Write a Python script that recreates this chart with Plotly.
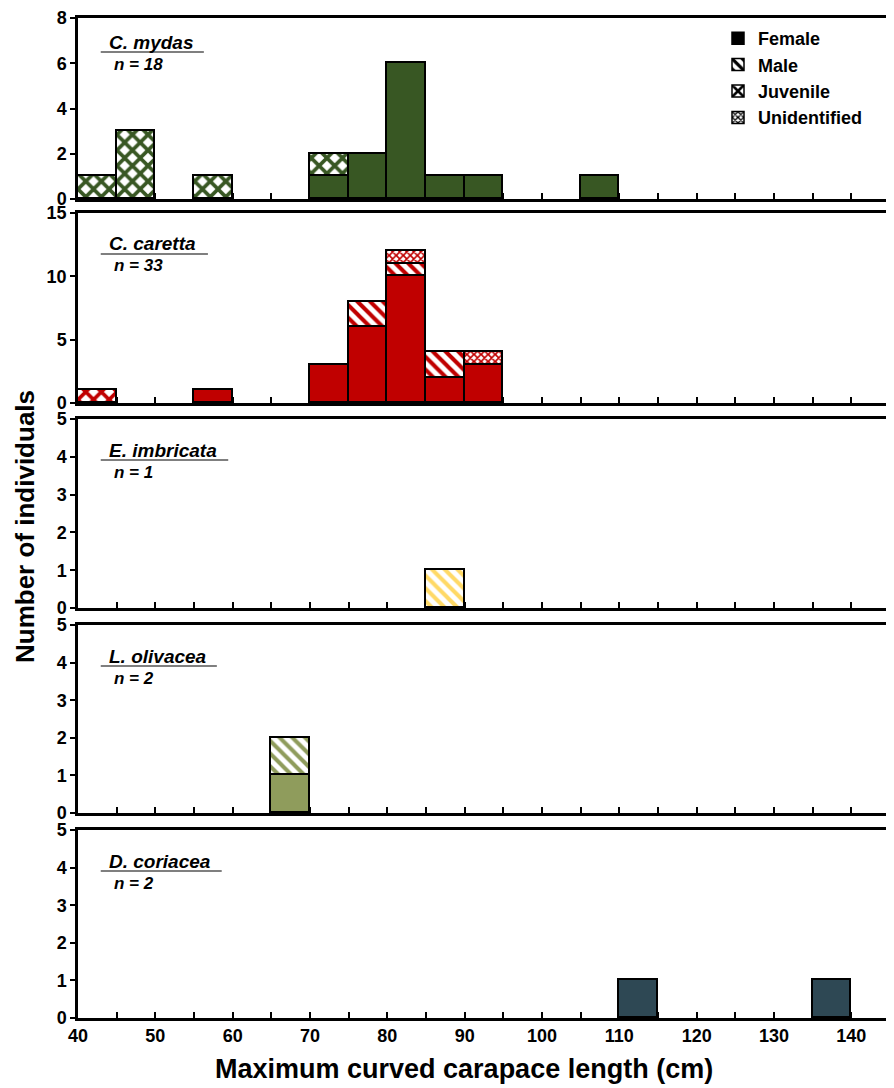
import plotly.graph_objects as go

# ---------------- data ----------------
bin_starts = [40, 45, 50, 55, 60, 65, 70, 75, 80, 85, 90, 95, 100, 105, 110,
              115, 120, 125, 130, 135, 140]
bin_width = 5

species = ["C. mydas", "C. caretta", "E. imbricata", "L. olivacea", "D. coriacea"]
n_values = [18, 33, 1, 2, 2]
species_colors = ["#385723", "#C00000", "#FFD966", "#8F9C5C", "#2E4854"]
categories = ["Female", "Male", "Juvenile", "Unidentified"]

#                40 45 50 55 60 65 70 75 80 85 90 95 100 105 110 115 120 125 130 135 140
mydas_female = [0, 0, 0, 0, 0, 0, 1, 2, 6, 1, 1, 0, 0, 1, 0, 0, 0, 0, 0, 0, 0]
mydas_male = [0] * 21
mydas_juvenile = [1, 3, 0, 1, 0, 0, 1, 0, 0, 0, 0, 0, 0, 0, 0, 0, 0, 0, 0, 0, 0]
mydas_unident = [0] * 21

caretta_female = [0, 0, 0, 1, 0, 0, 3, 6, 10, 2, 3, 0, 0, 0, 0, 0, 0, 0, 0, 0, 0]
caretta_male = [0, 0, 0, 0, 0, 0, 0, 2, 1, 2, 0, 0, 0, 0, 0, 0, 0, 0, 0, 0, 0]
caretta_juvenile = [1, 0, 0, 0, 0, 0, 0, 0, 0, 0, 0, 0, 0, 0, 0, 0, 0, 0, 0, 0, 0]
caretta_unident = [0, 0, 0, 0, 0, 0, 0, 0, 1, 0, 1, 0, 0, 0, 0, 0, 0, 0, 0, 0, 0]

imbricata_female = [0] * 21
imbricata_male = [0, 0, 0, 0, 0, 0, 0, 0, 0, 1, 0, 0, 0, 0, 0, 0, 0, 0, 0, 0, 0]
imbricata_juvenile = [0] * 21
imbricata_unident = [0] * 21

olivacea_female = [0, 0, 0, 0, 0, 1, 0, 0, 0, 0, 0, 0, 0, 0, 0, 0, 0, 0, 0, 0, 0]
olivacea_male = [0, 0, 0, 0, 0, 1, 0, 0, 0, 0, 0, 0, 0, 0, 0, 0, 0, 0, 0, 0, 0]
olivacea_juvenile = [0] * 21
olivacea_unident = [0] * 21

coriacea_female = [0, 0, 0, 0, 0, 0, 0, 0, 0, 0, 0, 0, 0, 0, 1, 0, 0, 0, 0, 1, 0]
coriacea_male = [0] * 21
coriacea_juvenile = [0] * 21
coriacea_unident = [0] * 21

counts = [
    [mydas_female, mydas_male, mydas_juvenile, mydas_unident],
    [caretta_female, caretta_male, caretta_juvenile, caretta_unident],
    [imbricata_female, imbricata_male, imbricata_juvenile, imbricata_unident],
    [olivacea_female, olivacea_male, olivacea_juvenile, olivacea_unident],
    [coriacea_female, coriacea_male, coriacea_juvenile, coriacea_unident],
]

y_ranges = [8, 15, 5, 5, 5]
y_dticks = [2, 5, 1, 1, 1]
x_tick_vals = [40, 45, 50, 55, 60, 65, 70, 75, 80, 85, 90, 95, 100, 105, 110,
               115, 120, 125, 130, 135, 140]
x_tick_text = ["40", "", "50", "", "60", "", "70", "", "80", "", "90", "", "100",
               "", "110", "", "120", "", "130", "", "140"]

# ---------------- styling ----------------
FONT = "Liberation Sans, Arial, sans-serif"
PAGE_OFF = 8                      # default page body margin
W, H = 894 - PAGE_OFF, 1088 - PAGE_OFF
# plot area in page pixels: left 78, right 890, top 18, bottom 1018
ML = 78 - PAGE_OFF
MR = W - (890 - PAGE_OFF)
MT = 18 - PAGE_OFF
MB = H - (1018 - PAGE_OFF)
plot_w = W - ML - MR
plot_h = H - MT - MB
panel_px = [(18, 199), (213, 403), (419, 608), (625, 813), (830, 1018)]
domains = [[(1018 - b) / plot_h, (1018 - t) / plot_h] for t, b in panel_px]
line_ends = [0.155, 0.160, 0.185, 0.171, 0.177]
label_top_px = [11, 213, 419, 625, 830]   # reference frame tops for label offsets


def pattern_for(cat, color):
    if cat == "Female":
        return dict(shape="")
    if cat == "Male":
        return dict(shape="\\", fgcolor=color, bgcolor="white", size=9,
                    solidity=0.45, fillmode="replace")
    if cat == "Juvenile":
        return dict(shape="x", fgcolor=color, bgcolor="white", size=11,
                    solidity=0.55, fillmode="replace")
    return dict(shape="x", fgcolor=color, bgcolor="white", size=5,
                solidity=0.55, fillmode="replace")


fig = go.Figure()
x_centers = [b + bin_width / 2 for b in bin_starts]

for i, sp in enumerate(species):
    ax = "" if i == 0 else str(i + 1)
    for j, cat in enumerate(categories):
        vals = counts[i][j]
        if sum(vals) == 0:
            continue
        xs = [x for x, v in zip(x_centers, vals) if v > 0]
        ys = [v for v in vals if v > 0]
        fig.add_trace(go.Bar(
            x=xs, y=ys, width=bin_width,
            xaxis="x" + ax, yaxis="y" + ax,
            marker=dict(color=species_colors[i] if cat == "Female" else "white",
                        line=dict(color="black", width=1.8),
                        pattern=pattern_for(cat, species_colors[i])),
            showlegend=False, name=cat,
        ))

for cat in categories:
    fig.add_trace(go.Bar(
        x=[None], y=[None], name=cat, xaxis="x", yaxis="y",
        marker=dict(color="black" if cat == "Female" else "white",
                    line=dict(color="black", width=1.5),
                    pattern=pattern_for(cat, "black")),
        showlegend=True,
    ))

layout = dict(
    width=W, height=H,
    margin=dict(l=ML, r=MR, t=MT, b=MB, autoexpand=False),
    plot_bgcolor="white", paper_bgcolor="white",
    barmode="stack", bargap=0,
    font=dict(family=FONT, size=17, color="black"),
    legend=dict(x=(718 - 78) / plot_w, y=1 - (20 - 18) / plot_h,
                xanchor="left", yanchor="top",
                font=dict(family=FONT, size=18, color="black", weight="bold"),
                bgcolor="rgba(0,0,0,0)", tracegroupgap=0, traceorder="normal",
                itemwidth=30),
    annotations=[], shapes=[],
)

for i, sp in enumerate(species):
    ax = "" if i == 0 else str(i + 1)
    xa = dict(
        domain=[0, 1], range=[40, 145], anchor="y" + ax, automargin=False,
        showline=True, linecolor="black", linewidth=2.5, mirror=True,
        ticks="inside", ticklen=6, tickwidth=2, tickcolor="black",
        tickvals=x_tick_vals, ticktext=x_tick_text,
        showticklabels=(i == 4), showgrid=False, zeroline=False,
        layer="below traces", ticklabeloverflow="allow",
        tickfont=dict(family=FONT, size=18, color="black", weight="bold"),
    )
    if i > 0:
        xa["matches"] = "x"
    ya = dict(
        domain=domains[i], range=[0, y_ranges[i]], anchor="x" + ax, automargin=False,
        showline=True, linecolor="black", linewidth=2.5, mirror=True,
        ticks="outside", ticklen=5, tickwidth=2, tickcolor="black",
        dtick=y_dticks[i], tick0=0, showgrid=False, zeroline=False,
        layer="below traces", ticklabeloverflow="allow",
        tickfont=dict(family=FONT, size=18, color="black", weight="bold"),
    )
    layout["xaxis" + ax] = xa
    layout["yaxis" + ax] = ya

    top_shift = panel_px[i][0] - label_top_px[i]
    layout["annotations"].append(dict(
        text="<b><i>" + sp + "</i></b>", xref="x" + ax + " domain",
        yref="y" + ax + " domain", x=0.036, y=1, xanchor="left",
        yanchor="middle", yshift=-31 + top_shift, showarrow=False,
        font=dict(family=FONT, size=19, color="black")))
    layout["annotations"].append(dict(
        text="<b><i>n = " + str(n_values[i]) + "</i></b>", xref="x" + ax + " domain",
        yref="y" + ax + " domain", x=0.042, y=1, xanchor="left",
        yanchor="middle", yshift=-53 + top_shift, showarrow=False,
        font=dict(family=FONT, size=17, color="black")))
    layout["shapes"].append(dict(
        type="line", xref="x" + ax + " domain", yref="y" + ax + " domain",
        ysizemode="pixel", yanchor=1, x0=0.028, x1=line_ends[i],
        y0=-41 + top_shift, y1=-41 + top_shift,
        line=dict(color="#555555", width=1.5)))

layout["annotations"].append(dict(
    text="<b>Number of individuals</b>", xref="paper", yref="paper",
    x=(25 - 78) / plot_w, y=(1018 - 527) / plot_h, textangle=-90, showarrow=False,
    xanchor="center", yanchor="middle",
    font=dict(family=FONT, size=26, color="black")))
layout["annotations"].append(dict(
    text="<b>Maximum curved carapace length (cm)</b>", xref="paper", yref="paper",
    x=(464 - 78) / plot_w, y=(1018 - 1069) / plot_h, showarrow=False,
    xanchor="center", yanchor="middle",
    font=dict(family=FONT, size=27, color="black")))

fig.update_layout(**layout)
fig.write_html("out.html")
